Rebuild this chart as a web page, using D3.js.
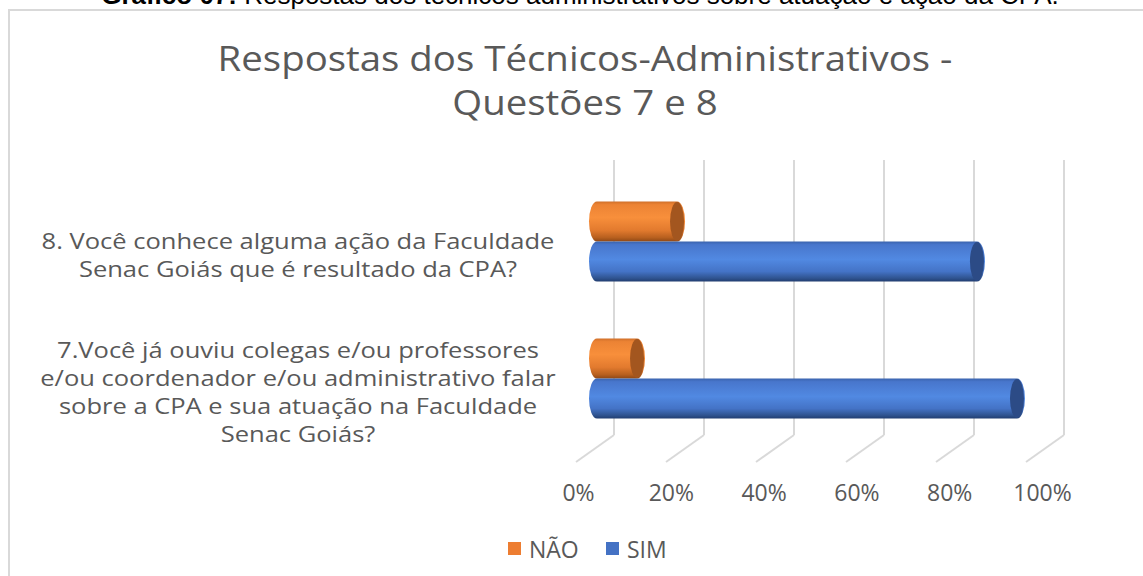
<!DOCTYPE html>
<html>
<head>
<meta charset="utf-8">
<script src="https://cdn.jsdelivr.net/npm/d3@7"></script>
<style>
  html, body { margin: 0; padding: 0; background: #fff; }
  svg { display: block; }
</style>
</head>
<body>
<svg id="chart" width="1143" height="576"></svg>
<script>
// ---------- DATA ----------
const caption = ["Gráfico 07:", " Respostas dos técnicos administrativos sobre atuação e ação da CPA."];
const titleLines = ["Respostas dos Técnicos-Administrativos -", "Questões 7 e 8"];
const categories = ["Q8", "Q7"];
const categoryLabels = [
  ["8. Você conhece alguma ação da Faculdade", "Senac Goiás que é resultado da CPA?"],
  ["7.Você já ouviu colegas e/ou professores", "e/ou coordenador e/ou administrativo falar", "sobre a CPA e sua atuação na Faculdade", "Senac Goiás?"]
];
const seriesNames = ["NÃO", "SIM"];
const naoValues = [0.174, 0.087];
const simValues = [0.826, 0.913];
const tickValues = [0, 0.2, 0.4, 0.6, 0.8, 1.0];
const tickLabels = ["0%", "20%", "40%", "60%", "80%", "100%"];

// ---------- SETUP ----------
const svg = d3.select("#chart");
const textColor = "#595959";
const gridColor = "#d9d9d9";
const font = "'Open Sans', sans-serif";

svg.append("rect").attr("width", 1143).attr("height", 576).attr("fill", "#fff");

// caption (cut at top, as in the reference)
const cap = svg.append("text")
  .attr("x", 580).attr("y", 4)
  .attr("text-anchor", "middle")
  .attr("font-family", "'Liberation Sans', Arial, sans-serif")
  .attr("font-size", 26).attr("fill", "#000");
cap.append("tspan").attr("font-weight", "bold").text(caption[0]);
cap.append("tspan").text(caption[1]);

// chart frame
svg.append("rect")
  .attr("x", 9).attr("y", 10).attr("width", 1160).attr("height", 600)
  .attr("fill", "#fff").attr("stroke", gridColor).attr("stroke-width", 2);

// horizontally stretched centered text helper
function stretchedText(parent, cx, y, txt, size, sx) {
  return parent.append("g").attr("transform", `translate(${cx},0) scale(${sx},1)`)
    .append("text").attr("x", 0).attr("y", y)
    .attr("text-anchor", "middle")
    .attr("font-family", font).attr("font-size", size).attr("fill", textColor)
    .text(txt);
}

// title
const tg = svg.append("g");
titleLines.forEach((t, i) => stretchedText(tg, 585, 71 + i * 44, t, 34, 1.13));

// ---------- SCALES ----------
const depth = { dx: -38, dy: 27 };
const xGrid = d3.scaleLinear().domain([0, 1]).range([614, 1064]);   // back wall
const xBar = d3.scaleLinear().domain([0, 1]).range([597, 1057]);    // bars at mid depth
const xLabel = d3.scaleLinear().domain([0, 1]).range([578, 1042]);  // tick labels
const gridTop = 160, gridBottom = 435;

const yCat = d3.scaleBand().domain(categories).range([173, 447]).padding(0);
const ySub = d3.scaleBand().domain(seriesNames).range([0, 80]).padding(0);
const barH = 40;

// ---------- GRID ----------
const grid = svg.append("g");
grid.selectAll("line.v").data(tickValues).join("line")
  .attr("class", "v")
  .attr("x1", d => xGrid(d)).attr("x2", d => xGrid(d))
  .attr("y1", gridTop).attr("y2", gridBottom)
  .attr("stroke", gridColor).attr("stroke-width", 2);
grid.selectAll("line.f").data(tickValues).join("line")
  .attr("class", "f")
  .attr("x1", d => xGrid(d)).attr("x2", d => xGrid(d) + depth.dx)
  .attr("y1", gridBottom).attr("y2", gridBottom + depth.dy)
  .attr("stroke", gridColor).attr("stroke-width", 2);

// ---------- GRADIENTS ----------
const defs = svg.append("defs");
function grad(id, stops) {
  const g = defs.append("linearGradient").attr("id", id)
    .attr("x1", 0).attr("y1", 0).attr("x2", 0).attr("y2", 1);
  stops.forEach(s => g.append("stop").attr("offset", s[0]).attr("stop-color", s[1]));
}
grad("gBlue", [[0, "#3a63ad"], [0.08, "#4876cc"], [0.45, "#5189e2"], [0.75, "#4473c6"], [0.92, "#2f538f"], [1, "#213d70"]]);
grad("gOrange", [[0, "#d0702a"], [0.08, "#ec8334"], [0.4, "#f88f3b"], [0.72, "#e27a2e"], [0.9, "#b8601f"], [1, "#8f4816"]]);
const capColor = { "NÃO": "#a3561f", "SIM": "#2c4b86" };
const bodyFill = { "NÃO": "url(#gOrange)", "SIM": "url(#gBlue)" };

// ---------- BARS ----------
const rows = categories.map((c, i) => ({ cat: c, values: [
  { s: "NÃO", v: naoValues[i] }, { s: "SIM", v: simValues[i] } ] }));
const rx = 8;
const gBars = svg.append("g");
rows.forEach(r => {
  const g0 = yCat(r.cat) + yCat.bandwidth() / 2 - 40;
  r.values.forEach(d => {
    const y0 = g0 + ySub(d.s);
    const y1 = y0 + barH;
    const ry = barH / 2;
    const x0 = xBar(0), x1 = xBar(d.v);
    const p = `M${x0},${y0} L${x1},${y0} A${rx},${ry} 0 0 1 ${x1},${y1} L${x0},${y1} A${rx},${ry} 0 0 1 ${x0},${y0} Z`;
    gBars.append("path").attr("d", p).attr("fill", bodyFill[d.s]);
    gBars.append("ellipse")
      .attr("cx", x1).attr("cy", y0 + ry).attr("rx", rx - 1).attr("ry", ry - 0.5)
      .attr("fill", capColor[d.s]);
  });
});

// ---------- CATEGORY LABELS ----------
const lblG = svg.append("g");
categories.forEach((c, i) => {
  const lines = categoryLabels[i];
  const center = yCat(c) + yCat.bandwidth() / 2 + 14;
  const n = lines.length;
  lines.forEach((t, j) => stretchedText(lblG, 298, center + (j - (n - 1) / 2) * 28 + 8, t, 22, 1.16));
});

// ---------- X AXIS ----------
const axis = d3.axisBottom(xLabel).tickValues(tickValues)
  .tickFormat((d, i) => tickLabels[i]).tickSize(0).tickPadding(0);
const ax = svg.append("g").attr("transform", "translate(0,501)").call(axis);
ax.select(".domain").remove();
ax.selectAll("text")
  .attr("dy", 0).attr("y", 0)
  .attr("font-family", font).attr("font-size", 23).attr("fill", textColor);

// ---------- LEGEND ----------
const legendColors = { "NÃO": "#ED7D31", "SIM": "#4472C4" };
const legendX = [508, 606];
const lg = svg.append("g");
seriesNames.forEach((s, i) => {
  lg.append("rect").attr("x", legendX[i]).attr("y", 542).attr("width", 13).attr("height", 13)
    .attr("fill", legendColors[s]);
  lg.append("text").attr("x", legendX[i] + 21).attr("y", 558)
    .attr("font-family", font).attr("font-size", 23).attr("fill", textColor).text(s);
});
</script>
</body>
</html>
